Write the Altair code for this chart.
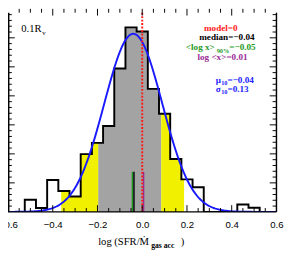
import altair as alt
import pandas as pd

# ---------------- data ----------------
X_DOMAIN = [-0.6, 0.6]
Y_DOMAIN = [0, 34.33]
W, H = 279, 207

bin_left = [-0.525, -0.475, -0.425, -0.375, -0.325, -0.275, -0.225, -0.175,
            -0.125, -0.075, -0.025, 0.025, 0.075, 0.125, 0.175, 0.225,
            0.275, 0.325, 0.375, 0.425, 0.475]
bin_count = [2.1, 0.66, 5.5, 3.6, 2.65, 9.95, 11.9, 14.8,
             24.7, 31.8, 31.1, 21.2, 16.9, 9.1, 5.6, 4.25,
             0.0, 0.0, 0.0, 1.28, 0.71]
BIN_W = 0.05

yellow_lo, gray_lo, gray_hi, yellow_hi = -0.362, -0.197, 0.085, 0.187

g_mu, g_sigma, g_amp = -0.04, 0.13, 30.7

model_x = 0.0
median_x = -0.037
logx90_x = -0.044
meanlog_x = 0.006
marker_top = 6.9

x_label_vals = [-0.6, -0.4, -0.2, 0.0, 0.2, 0.4, 0.6]
x_major = [-0.4, -0.2, 0.0, 0.2, 0.4]
x_minor = [-0.55, -0.5, -0.45, -0.35, -0.3, -0.25, -0.15, -0.1, -0.05,
           0.05, 0.1, 0.15, 0.25, 0.3, 0.35, 0.45, 0.5, 0.55]
y_label_vals = [0, 5, 10, 15, 20, 25, 30]
y_major = [5, 10, 15, 20, 25, 30]
y_minor = [1, 2, 3, 4, 6, 7, 8, 9, 11, 12, 13, 14, 16, 17, 18, 19, 21, 22, 23, 24,
           26, 27, 28, 29, 31, 32, 33, 34]

# annotation texts (x, y in data units)
ann_text = ["model=0", "median=\u22120.04", "<log x>", "90%", "=\u22120.05",
            "log <x>=0.01", "\u03bc", "10", "=\u22120.04", "\u03c3", "10", "=0.13"]
ann_x = [0.276, 0.255, 0.195, 0.333, 0.389, 0.247, 0.329, 0.353, 0.381, 0.329, 0.353, 0.381]
ann_y = [31.18, 29.6, 27.86, 27.45, 27.86, 26.15, 22.3, 21.85, 22.3, 20.73, 20.28, 20.73]
ann_size = [9.5, 9.5, 9.5, 6.5, 9.5, 9.5, 9.5, 6.5, 9.5, 9.5, 6.5, 9.5]
ann_color = ["#ff1a1a", "#000000", "#1f9a1f", "#1f9a1f", "#1f9a1f", "#9a2a96",
             "#2222ff", "#2222ff", "#2222ff", "#2222ff", "#2222ff", "#2222ff"]

lab_text = ["0.1R", "v"]
lab_x = [-0.541, -0.447]
lab_y = [30.96, 30.5]
lab_size = [11, 7]

xt_text = ["log (SFR/\u1e40", "gas acc", ")"]
xt_x = [-0.197, 0.040, 0.172]
xt_y = [-5.64, -6.25, -5.64]
xt_size = [11, 8, 11]
xt_weight = ["normal", "bold", "normal"]

# ---------------- helpers ----------------
def val_at(x):
    for l, c in zip(bin_left, bin_count):
        if l - 1e-9 <= x < l + BIN_W - 1e-9:
            return c
    return 0.0

def region(a, b, name):
    xs = [a] + [e for e in bin_left if a < e < b] + [b]
    ys = [val_at(x) for x in xs[:-1]]
    ys.append(ys[-1])
    return pd.DataFrame({"x": xs, "y": ys, "region": name})

xscale = alt.Scale(domain=X_DOMAIN, nice=False, zero=False)
yscale = alt.Scale(domain=Y_DOMAIN, nice=False, zero=False)

def X(field="x"):
    return alt.X(f"{field}:Q", scale=xscale, axis=alt.Axis(
        values=x_label_vals, format=".1f", labelFont="Liberation Sans",
        labelFontSize=10, labelColor="black", ticks=False, tickSize=0,
        domain=False, grid=False, labelPadding=8, labelFlush=False,
        labelOverlap=False, title=None))

def Y(field="y"):
    return alt.Y(f"{field}:Q", scale=yscale, stack=None, axis=alt.Axis(
        values=y_label_vals, format="d", labelFont="Liberation Sans",
        labelFontSize=10, labelColor="black", ticks=False, tickSize=0,
        domain=False, grid=False, labelPadding=4, title=None))

# ---------------- layers ----------------
hist_x = [-0.6] + bin_left + [0.525, 0.6]
hist_y = [0.0] + bin_count + [0.0, 0.0]
hist_df = pd.DataFrame({"x": hist_x, "y": hist_y})

gray_df = region(gray_lo, gray_hi, "g")
yel_df = pd.concat([region(yellow_lo, gray_lo, "a"), region(gray_hi, yellow_hi, "b")])

gray = alt.Chart(gray_df).mark_area(interpolate="step-after", color="#a3a3a3").encode(
    x=X(), y=Y(), y2=alt.datum(0))
yellow = alt.Chart(yel_df).mark_area(interpolate="step-after", color="#f0f000").encode(
    x=X(), y=Y(), y2=alt.datum(0), detail="region:N")

outline = alt.Chart(hist_df).mark_line(interpolate="step-after", color="black",
                                       strokeWidth=2, clip=True).encode(x=X(), y=Y())

gauss = alt.Chart(alt.sequence(-0.6, 0.6001, 0.004, as_="x")).transform_calculate(
    y=f"{g_amp}*exp(-pow(datum.x-({g_mu}),2)/(2*{g_sigma}*{g_sigma}))"
).mark_line(color="#1a1aff", strokeWidth=2, clip=True).encode(x=X(), y=Y())

marks_df = pd.DataFrame({"x": [logx90_x, median_x, meanlog_x],
                         "y": [0, 0, 0], "y2": [marker_top] * 3,
                         "c": ["#1f9a1f", "#000000", "#9a2a96"]})
markers = alt.Chart(marks_df).mark_rule(strokeWidth=1.5).encode(
    x=X(), y=Y(), y2="y2:Q", color=alt.Color("c:N", scale=None))

model_df = pd.DataFrame({"x": [model_x]})
model_line = alt.Chart(model_df).mark_rule(color="#ff1a1a", strokeWidth=2,
                                           strokeDash=[2, 1.6]).encode(
    x=X(), y=alt.value(0), y2=alt.value(H))

# ticks (inward) and frame
def tick_layer(vals, axis, side, length):
    df = pd.DataFrame({"v": vals})
    base = alt.Chart(df).mark_rule(color="black", strokeWidth=1)
    if axis == "x":
        if side == "bottom":
            return base.encode(x=X("v"), y=alt.value(H), y2=alt.value(H - length))
        return base.encode(x=X("v"), y=alt.value(-4), y2=alt.value(-4 + length))
    if side == "left":
        return base.encode(y=Y("v"), x=alt.value(0), x2=alt.value(length))
    return base.encode(y=Y("v"), x=alt.value(W), x2=alt.value(W - length))

ticks = [
    tick_layer(x_major, "x", "bottom", 7), tick_layer(x_minor, "x", "bottom", 4),
    tick_layer(x_major, "x", "top", 7), tick_layer(x_minor, "x", "top", 4),
    tick_layer(y_major, "y", "left", 7), tick_layer(y_minor, "y", "left", 4),
    tick_layer(y_major, "y", "right", 7), tick_layer(y_minor, "y", "right", 4),
]

frame_df = pd.DataFrame({"x": [0]})
frame = [
    alt.Chart(frame_df).mark_rule(color="black", strokeWidth=1.5).encode(
        x=alt.value(0.75), y=alt.value(0), y2=alt.value(H)),
    alt.Chart(frame_df).mark_rule(color="black", strokeWidth=1.5).encode(
        x=alt.value(W), y=alt.value(0), y2=alt.value(H)),
    alt.Chart(frame_df).mark_rule(color="black", strokeWidth=1.5).encode(
        x=alt.value(0), x2=alt.value(W), y=alt.value(H)),
]

ann_df = pd.DataFrame({"x": ann_x, "y": ann_y, "t": ann_text, "s": ann_size, "c": ann_color})
ann = alt.Chart(ann_df).mark_text(align="left", baseline="alphabetic",
                                  font="Liberation Serif, DejaVu Serif, serif",
                                  fontWeight="bold").encode(
    x=X(), y=Y(), text="t:N", size=alt.Size("s:Q", scale=None),
    color=alt.Color("c:N", scale=None))

lab_df = pd.DataFrame({"x": lab_x, "y": lab_y, "t": lab_text, "s": lab_size})
lab = alt.Chart(lab_df).mark_text(align="left", baseline="alphabetic",
                                  font="Liberation Serif, DejaVu Serif, serif",
                                  color="black").encode(
    x=X(), y=Y(), text="t:N", size=alt.Size("s:Q", scale=None))

xt_df = pd.DataFrame({"x": xt_x, "y": xt_y, "t": xt_text, "s": xt_size, "w": xt_weight})
xt_layers = []
for w in ["normal", "bold"]:
    xt_layers.append(alt.Chart(xt_df[xt_df.w == w]).mark_text(
        align="left", baseline="alphabetic",
        font="Liberation Serif, DejaVu Serif, serif", color="black",
        fontWeight=w).encode(x=X(), y=Y(), text="t:N",
                             size=alt.Size("s:Q", scale=None)))

chart = alt.layer(gray, yellow, outline, gauss, markers, model_line,
                  *ticks, *frame, ann, lab, *xt_layers).properties(
    width=W, height=H,
    autosize=alt.AutoSizeParams(type="none"),
    padding={"left": 0, "top": 0, "right": 12, "bottom": 42},
    background="white",
).configure_view(stroke=None)

chart.save("out.html", embed_options={"renderer": "svg", "actions": False})
